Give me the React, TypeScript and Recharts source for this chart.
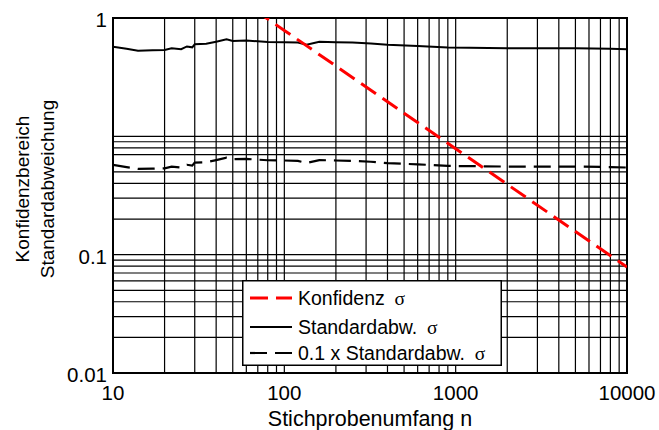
import React from "react";
import {
  LineChart,
  Line,
  XAxis,
  YAxis,
  Legend,
  ReferenceArea,
  ReferenceLine,
} from "recharts";

// ---- axis ticks ----
const xTicks = [10, 100, 1000, 10000];
const xTickLabels = ["10", "100", "1000", "10000"];
const yTicks = [0.01, 0.1, 10];
const yTickLabels = ["0.01", "0.1", "1"];

// ---- grid values ----
const xGridValues = [
  20, 30, 40, 50, 60, 70, 80, 90, 100,
  200, 300, 400, 500, 600, 700, 800, 900, 1000,
  2000, 3000, 4000, 5000, 6000, 7000, 8000, 9000,
];
const yGridValues = [
  0.02, 0.03, 0.04, 0.05, 0.06, 0.07, 0.08, 0.09, 0.1,
  0.2, 0.3, 0.4, 0.5, 0.7, 0.8, 0.9, 1,
];

// ---- series: Konfidenz ----
const konfN = [50, 100, 200, 500, 1000, 2000, 5000, 10000];
const konfValues = [15.7, 7.85, 3.93, 1.57, 0.785, 0.393, 0.157, 0.0785];

// ---- series: Standardabw. and 0.1 x Standardabw. ----
const stdN = [
  10, 12, 14, 17, 20, 22, 25, 27, 29, 30, 35, 40, 46, 50, 60, 70, 80, 100,
  120, 135, 160, 200, 250, 320, 400, 600, 900, 1200, 2000, 5000, 8000, 10000,
];
const stdValues = [
  5.73, 5.5, 5.3, 5.33, 5.37, 5.55, 5.45, 5.75, 5.65, 6.0, 6.05, 6.3, 6.6,
  6.4, 6.45, 6.35, 6.28, 6.25, 6.2, 5.95, 6.3, 6.25, 6.2, 6.1, 5.93, 5.8,
  5.62, 5.6, 5.55, 5.55, 5.5, 5.45,
];
const std01Values = [
  0.573, 0.55, 0.53, 0.533, 0.537, 0.555, 0.545, 0.575, 0.565, 0.6, 0.605,
  0.63, 0.66, 0.64, 0.645, 0.635, 0.628, 0.625, 0.62, 0.595, 0.63, 0.625,
  0.62, 0.61, 0.593, 0.58, 0.562, 0.56, 0.555, 0.555, 0.55, 0.545,
];

const konfData = konfN.map((n, i) => ({ n, v: konfValues[i] }));
const stdData = stdN.map((n, i) => ({ n, v: stdValues[i] }));
const std01Data = stdN.map((n, i) => ({ n, v: std01Values[i] }));

const SANS = "'Liberation Sans', Arial, sans-serif";
const SERIF = "'Liberation Serif', 'Times New Roman', serif";

const series = [
  { key: "konf", name: "Konfidenz", data: konfData, color: "#ff0000", dash: "18 8", width: 3 },
  { key: "std", name: "Standardabw.", data: stdData, color: "#000000", dash: undefined, width: 2 },
  { key: "std01", name: "0.1 x Standardabw.", data: std01Data, color: "#000000", dash: "17 8", width: 2.2 },
];

const XTick = (props: any) => {
  const { x, y, payload } = props;
  const idx = xTicks.indexOf(payload.value);
  return (
    <text x={x} y={y} dy={27} textAnchor="middle" fontFamily={SANS} fontSize={20.5} fill="#000">
      {xTickLabels[idx]}
    </text>
  );
};

const YTick = (props: any) => {
  const { x, y, payload } = props;
  const idx = yTicks.indexOf(payload.value);
  return (
    <text x={x} y={y} dy={9} textAnchor="end" fontFamily={SANS} fontSize={20.5} fill="#000">
      {yTickLabels[idx]}
    </text>
  );
};

const YLabel = () => (
  <g>
    <text
      transform="translate(29,189) rotate(-90)"
      textAnchor="middle"
      fontFamily={SANS}
      fontSize={19}
      fill="#000"
    >
      Konfidenzbereich
    </text>
    <text
      transform="translate(54,189) rotate(-90)"
      textAnchor="middle"
      fontFamily={SANS}
      fontSize={19}
      fill="#000"
    >
      Standardabweichung
    </text>
  </g>
);

const LegendBox = () => {
  const rows = [18, 47, 73];
  return (
    <svg width={260} height={86} style={{ display: "block" }}>
      <rect x={0.75} y={0.75} width={258.5} height={84.5} fill="#fff" stroke="#000" strokeWidth={1.5} />
      {series.map((s, i) => (
        <g key={s.key}>
          <line
            x1={8}
            x2={50}
            y1={rows[i]}
            y2={rows[i]}
            stroke={s.color}
            strokeWidth={s.width}
            strokeDasharray={s.dash}
          />
          <text x={56} y={rows[i] + 7} fontFamily={SANS} fontSize={19.5} fill="#000">
            {s.name}
            <tspan fontFamily={SERIF}>{"\u00A0\u00A0\u03C3"}</tspan>
          </text>
        </g>
      ))}
    </svg>
  );
};

export default function App() {
  const drawOrder = [series[1], series[2], series[0]];
  return (
    <div style={{ position: "absolute", left: 0, top: 0, width: 659, height: 430, background: "#fff" }}>
      <LineChart
        width={659}
        height={430}
        margin={{ top: 18, right: 32, bottom: 0, left: 0 }}
      >
        <XAxis
          dataKey="n"
          type="number"
          scale="log"
          domain={[10, 10000]}
          allowDataOverflow
          ticks={xTicks}
          height={57}
          tickSize={0}
          tickMargin={0}
          tick={<XTick />}
          axisLine={{ stroke: "#000", strokeWidth: 2 }}
          tickLine={false}
          label={{
            value: "Stichprobenumfang n",
            position: "insideBottom",
            offset: 4,
            fill: "#000",
            fontSize: 21.5,
            fontFamily: SANS,
          }}
        />
        <YAxis
          type="number"
          scale="log"
          domain={[0.01, 10]}
          allowDataOverflow
          ticks={yTicks}
          width={113}
          tickSize={0}
          tickMargin={6}
          tick={<YTick />}
          axisLine={{ stroke: "#000", strokeWidth: 2 }}
          tickLine={false}
          label={{ content: <YLabel /> }}
        />
        {xGridValues.map((v) => (
          <ReferenceLine key={"gx" + v} x={v} stroke="#000" strokeWidth={1.2} />
        ))}
        {yGridValues.map((v) => (
          <ReferenceLine key={"gy" + v} y={v} stroke="#000" strokeWidth={1.2} />
        ))}
        <ReferenceArea
          x1={10}
          x2={10000}
          y1={0.01}
          y2={10}
          fill="none"
          stroke="#000"
          strokeWidth={2}
          ifOverflow="visible"
        />
        {drawOrder.map((s) => (
          <Line
            key={s.key}
            data={s.data}
            dataKey="v"
            name={s.name}
            type="linear"
            dot={false}
            activeDot={false}
            stroke={s.color}
            strokeWidth={s.width}
            strokeDasharray={s.dash}
            isAnimationActive={false}
          />
        ))}
        <Legend
          layout="vertical"
          align="center"
          verticalAlign="middle"
          content={<LegendBox />}
          wrapperStyle={{ left: 242, top: 280, width: 260, height: 86 }}
        />
      </LineChart>
    </div>
  );
}
